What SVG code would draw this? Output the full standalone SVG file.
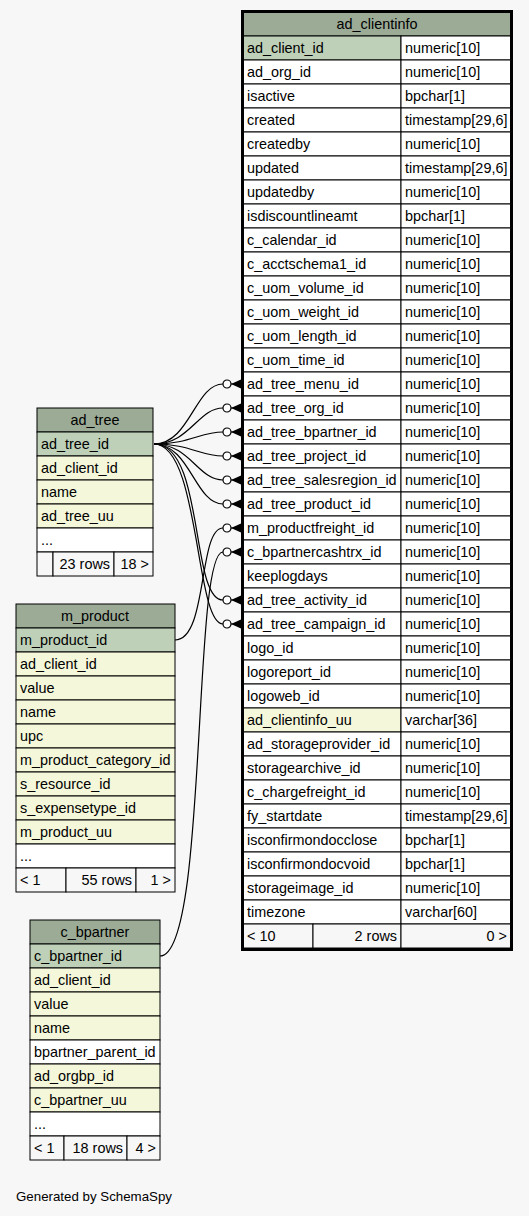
<svg xmlns="http://www.w3.org/2000/svg" xmlns:xlink="http://www.w3.org/1999/xlink" width="529" height="1216" viewBox="0 0 529 1216">
<style>
text{font-family:"Liberation Sans",Arial,sans-serif;font-size:14.4px;fill:#000}
.h{fill:#9bab96;stroke:#000;stroke-width:1}
.p{fill:#bed1b8;stroke:#000;stroke-width:1}
.y{fill:#f4f7da;stroke:#000;stroke-width:1}
.w{fill:#fff;stroke:#000;stroke-width:1}
.f{fill:#f7f7f7;stroke:#000;stroke-width:1}
.c{text-anchor:middle}
.r{text-anchor:end}
.e{fill:none;stroke:#000;stroke-width:1.2}
</style>
<defs>
<g id="crow"><circle cx="-14" cy="0" r="4" fill="#fff" stroke="#000" stroke-width="1.2"/><path d="M-10,0 L0,-4.5 L0,4.5 Z" fill="#000"/><path d="M-10,0 H0" stroke="#000"/></g>
</defs>
<rect width="529" height="1216" fill="#f7f7f7"/>

<g id="edges">
<path class="e" d="M154,444 C190,444 195,384 223,384"/>
<path class="e" d="M154,444 C190,444 198,408 223,408"/>
<path class="e" d="M154,444 C190,444 200,432 223,432"/>
<path class="e" d="M154,444 C190,444 200,456 223,456"/>
<path class="e" d="M154,444 C190,444 198,480 223,480"/>
<path class="e" d="M154,444 C190,444 195,504 223,504"/>
<path class="e" d="M154,444 C205,444 190,600 223,600"/>
<path class="e" d="M154,444 C200,444 195,624 223,624"/>
<path class="e" d="M175,640 C208,640 198,528 223,528"/>
<path class="e" d="M160,956 C208,956 192,552 223,552"/>
<use xlink:href="#crow" x="241" y="384"/>
<use xlink:href="#crow" x="241" y="408"/>
<use xlink:href="#crow" x="241" y="432"/>
<use xlink:href="#crow" x="241" y="456"/>
<use xlink:href="#crow" x="241" y="480"/>
<use xlink:href="#crow" x="241" y="504"/>
<use xlink:href="#crow" x="241" y="528"/>
<use xlink:href="#crow" x="241" y="552"/>
<use xlink:href="#crow" x="241" y="600"/>
<use xlink:href="#crow" x="241" y="624"/>
</g>

<g id="ad_clientinfo">
<rect class="h" x="243" y="12" width="268" height="24"/>
<text class="c" x="377" y="29">ad_clientinfo</text>
<rect class="p" x="243" y="36" width="158" height="24"/><rect class="w" x="401" y="36" width="110" height="24"/><text x="247" y="53">ad_client_id</text><text x="405" y="53">numeric[10]</text>
<rect class="w" x="243" y="60" width="158" height="24"/><rect class="w" x="401" y="60" width="110" height="24"/><text x="247" y="77">ad_org_id</text><text x="405" y="77">numeric[10]</text>
<rect class="w" x="243" y="84" width="158" height="24"/><rect class="w" x="401" y="84" width="110" height="24"/><text x="247" y="101">isactive</text><text x="405" y="101">bpchar[1]</text>
<rect class="w" x="243" y="108" width="158" height="24"/><rect class="w" x="401" y="108" width="110" height="24"/><text x="247" y="125">created</text><text x="405" y="125">timestamp[29,6]</text>
<rect class="w" x="243" y="132" width="158" height="24"/><rect class="w" x="401" y="132" width="110" height="24"/><text x="247" y="149">createdby</text><text x="405" y="149">numeric[10]</text>
<rect class="w" x="243" y="156" width="158" height="24"/><rect class="w" x="401" y="156" width="110" height="24"/><text x="247" y="173">updated</text><text x="405" y="173">timestamp[29,6]</text>
<rect class="w" x="243" y="180" width="158" height="24"/><rect class="w" x="401" y="180" width="110" height="24"/><text x="247" y="197">updatedby</text><text x="405" y="197">numeric[10]</text>
<rect class="w" x="243" y="204" width="158" height="24"/><rect class="w" x="401" y="204" width="110" height="24"/><text x="247" y="221">isdiscountlineamt</text><text x="405" y="221">bpchar[1]</text>
<rect class="w" x="243" y="228" width="158" height="24"/><rect class="w" x="401" y="228" width="110" height="24"/><text x="247" y="245">c_calendar_id</text><text x="405" y="245">numeric[10]</text>
<rect class="w" x="243" y="252" width="158" height="24"/><rect class="w" x="401" y="252" width="110" height="24"/><text x="247" y="269">c_acctschema1_id</text><text x="405" y="269">numeric[10]</text>
<rect class="w" x="243" y="276" width="158" height="24"/><rect class="w" x="401" y="276" width="110" height="24"/><text x="247" y="293">c_uom_volume_id</text><text x="405" y="293">numeric[10]</text>
<rect class="w" x="243" y="300" width="158" height="24"/><rect class="w" x="401" y="300" width="110" height="24"/><text x="247" y="317">c_uom_weight_id</text><text x="405" y="317">numeric[10]</text>
<rect class="w" x="243" y="324" width="158" height="24"/><rect class="w" x="401" y="324" width="110" height="24"/><text x="247" y="341">c_uom_length_id</text><text x="405" y="341">numeric[10]</text>
<rect class="w" x="243" y="348" width="158" height="24"/><rect class="w" x="401" y="348" width="110" height="24"/><text x="247" y="365">c_uom_time_id</text><text x="405" y="365">numeric[10]</text>
<rect class="w" x="243" y="372" width="158" height="24"/><rect class="w" x="401" y="372" width="110" height="24"/><text x="247" y="389">ad_tree_menu_id</text><text x="405" y="389">numeric[10]</text>
<rect class="w" x="243" y="396" width="158" height="24"/><rect class="w" x="401" y="396" width="110" height="24"/><text x="247" y="413">ad_tree_org_id</text><text x="405" y="413">numeric[10]</text>
<rect class="w" x="243" y="420" width="158" height="24"/><rect class="w" x="401" y="420" width="110" height="24"/><text x="247" y="437">ad_tree_bpartner_id</text><text x="405" y="437">numeric[10]</text>
<rect class="w" x="243" y="444" width="158" height="24"/><rect class="w" x="401" y="444" width="110" height="24"/><text x="247" y="461">ad_tree_project_id</text><text x="405" y="461">numeric[10]</text>
<rect class="w" x="243" y="468" width="158" height="24"/><rect class="w" x="401" y="468" width="110" height="24"/><text x="247" y="485">ad_tree_salesregion_id</text><text x="405" y="485">numeric[10]</text>
<rect class="w" x="243" y="492" width="158" height="24"/><rect class="w" x="401" y="492" width="110" height="24"/><text x="247" y="509">ad_tree_product_id</text><text x="405" y="509">numeric[10]</text>
<rect class="w" x="243" y="516" width="158" height="24"/><rect class="w" x="401" y="516" width="110" height="24"/><text x="247" y="533">m_productfreight_id</text><text x="405" y="533">numeric[10]</text>
<rect class="w" x="243" y="540" width="158" height="24"/><rect class="w" x="401" y="540" width="110" height="24"/><text x="247" y="557">c_bpartnercashtrx_id</text><text x="405" y="557">numeric[10]</text>
<rect class="w" x="243" y="564" width="158" height="24"/><rect class="w" x="401" y="564" width="110" height="24"/><text x="247" y="581">keeplogdays</text><text x="405" y="581">numeric[10]</text>
<rect class="w" x="243" y="588" width="158" height="24"/><rect class="w" x="401" y="588" width="110" height="24"/><text x="247" y="605">ad_tree_activity_id</text><text x="405" y="605">numeric[10]</text>
<rect class="w" x="243" y="612" width="158" height="24"/><rect class="w" x="401" y="612" width="110" height="24"/><text x="247" y="629">ad_tree_campaign_id</text><text x="405" y="629">numeric[10]</text>
<rect class="w" x="243" y="636" width="158" height="24"/><rect class="w" x="401" y="636" width="110" height="24"/><text x="247" y="653">logo_id</text><text x="405" y="653">numeric[10]</text>
<rect class="w" x="243" y="660" width="158" height="24"/><rect class="w" x="401" y="660" width="110" height="24"/><text x="247" y="677">logoreport_id</text><text x="405" y="677">numeric[10]</text>
<rect class="w" x="243" y="684" width="158" height="24"/><rect class="w" x="401" y="684" width="110" height="24"/><text x="247" y="701">logoweb_id</text><text x="405" y="701">numeric[10]</text>
<rect class="y" x="243" y="708" width="158" height="24"/><rect class="w" x="401" y="708" width="110" height="24"/><text x="247" y="725">ad_clientinfo_uu</text><text x="405" y="725">varchar[36]</text>
<rect class="w" x="243" y="732" width="158" height="24"/><rect class="w" x="401" y="732" width="110" height="24"/><text x="247" y="749">ad_storageprovider_id</text><text x="405" y="749">numeric[10]</text>
<rect class="w" x="243" y="756" width="158" height="24"/><rect class="w" x="401" y="756" width="110" height="24"/><text x="247" y="773">storagearchive_id</text><text x="405" y="773">numeric[10]</text>
<rect class="w" x="243" y="780" width="158" height="24"/><rect class="w" x="401" y="780" width="110" height="24"/><text x="247" y="797">c_chargefreight_id</text><text x="405" y="797">numeric[10]</text>
<rect class="w" x="243" y="804" width="158" height="24"/><rect class="w" x="401" y="804" width="110" height="24"/><text x="247" y="821">fy_startdate</text><text x="405" y="821">timestamp[29,6]</text>
<rect class="w" x="243" y="828" width="158" height="24"/><rect class="w" x="401" y="828" width="110" height="24"/><text x="247" y="845">isconfirmondocclose</text><text x="405" y="845">bpchar[1]</text>
<rect class="w" x="243" y="852" width="158" height="24"/><rect class="w" x="401" y="852" width="110" height="24"/><text x="247" y="869">isconfirmondocvoid</text><text x="405" y="869">bpchar[1]</text>
<rect class="w" x="243" y="876" width="158" height="24"/><rect class="w" x="401" y="876" width="110" height="24"/><text x="247" y="893">storageimage_id</text><text x="405" y="893">numeric[10]</text>
<rect class="w" x="243" y="900" width="158" height="24"/><rect class="w" x="401" y="900" width="110" height="24"/><text x="247" y="917">timezone</text><text x="405" y="917">varchar[60]</text>
<rect class="f" x="243" y="924" width="70" height="24"/><rect class="f" x="313" y="924" width="88" height="24"/><rect class="f" x="401" y="924" width="110" height="24"/>
<text x="247" y="941">&lt; 10</text><text class="r" x="397" y="941">2 rows</text><text class="r" x="507" y="941">0 &gt;</text>
<rect x="242.5" y="11.5" width="269" height="938" fill="none" stroke="#000" stroke-width="3"/>
</g>

<g id="ad_tree">
<rect class="h" x="37" y="408" width="116" height="24"/><text class="c" x="95" y="425">ad_tree</text>
<rect class="p" x="37" y="432" width="116" height="24"/><text x="41" y="449">ad_tree_id</text>
<rect class="y" x="37" y="456" width="116" height="24"/><text x="41" y="473">ad_client_id</text>
<rect class="y" x="37" y="480" width="116" height="24"/><text x="41" y="497">name</text>
<rect class="y" x="37" y="504" width="116" height="24"/><text x="41" y="521">ad_tree_uu</text>
<rect class="w" x="37" y="528" width="116" height="24"/><text x="41" y="545">...</text>
<rect class="f" x="37" y="552" width="16" height="24"/><rect class="f" x="53" y="552" width="61" height="24"/><rect class="f" x="114" y="552" width="39" height="24"/>
<text class="r" x="110" y="569">23 rows</text><text class="r" x="149" y="569">18 &gt;</text>
</g>

<g id="m_product">
<rect class="h" x="16" y="604" width="159" height="24"/><text class="c" x="95" y="621">m_product</text>
<rect class="p" x="16" y="628" width="159" height="24"/><text x="20" y="645">m_product_id</text>
<rect class="y" x="16" y="652" width="159" height="24"/><text x="20" y="669">ad_client_id</text>
<rect class="y" x="16" y="676" width="159" height="24"/><text x="20" y="693">value</text>
<rect class="y" x="16" y="700" width="159" height="24"/><text x="20" y="717">name</text>
<rect class="y" x="16" y="724" width="159" height="24"/><text x="20" y="741">upc</text>
<rect class="y" x="16" y="748" width="159" height="24"/><text x="20" y="765">m_product_category_id</text>
<rect class="y" x="16" y="772" width="159" height="24"/><text x="20" y="789">s_resource_id</text>
<rect class="y" x="16" y="796" width="159" height="24"/><text x="20" y="813">s_expensetype_id</text>
<rect class="y" x="16" y="820" width="159" height="24"/><text x="20" y="837">m_product_uu</text>
<rect class="w" x="16" y="844" width="159" height="24"/><text x="20" y="861">...</text>
<rect class="f" x="16" y="868" width="50" height="24"/><rect class="f" x="66" y="868" width="70" height="24"/><rect class="f" x="136" y="868" width="39" height="24"/>
<text x="20" y="885">&lt; 1</text><text class="r" x="132" y="885">55 rows</text><text class="r" x="171" y="885">1 &gt;</text>
</g>

<g id="c_bpartner">
<rect class="h" x="30" y="920" width="130" height="24"/><text class="c" x="95" y="937">c_bpartner</text>
<rect class="p" x="30" y="944" width="130" height="24"/><text x="34" y="961">c_bpartner_id</text>
<rect class="y" x="30" y="968" width="130" height="24"/><text x="34" y="985">ad_client_id</text>
<rect class="y" x="30" y="992" width="130" height="24"/><text x="34" y="1009">value</text>
<rect class="y" x="30" y="1016" width="130" height="24"/><text x="34" y="1033">name</text>
<rect class="w" x="30" y="1040" width="130" height="24"/><text x="34" y="1057">bpartner_parent_id</text>
<rect class="y" x="30" y="1064" width="130" height="24"/><text x="34" y="1081">ad_orgbp_id</text>
<rect class="y" x="30" y="1088" width="130" height="24"/><text x="34" y="1105">c_bpartner_uu</text>
<rect class="w" x="30" y="1112" width="130" height="24"/><text x="34" y="1129">...</text>
<rect class="f" x="30" y="1136" width="34" height="24"/><rect class="f" x="64" y="1136" width="63" height="24"/><rect class="f" x="127" y="1136" width="33" height="24"/>
<text x="34" y="1153">&lt; 1</text><text class="r" x="123" y="1153">18 rows</text><text class="r" x="156" y="1153">4 &gt;</text>
</g>

<text x="16" y="1201" style="font-size:13.3px">Generated by SchemaSpy</text>
</svg>
